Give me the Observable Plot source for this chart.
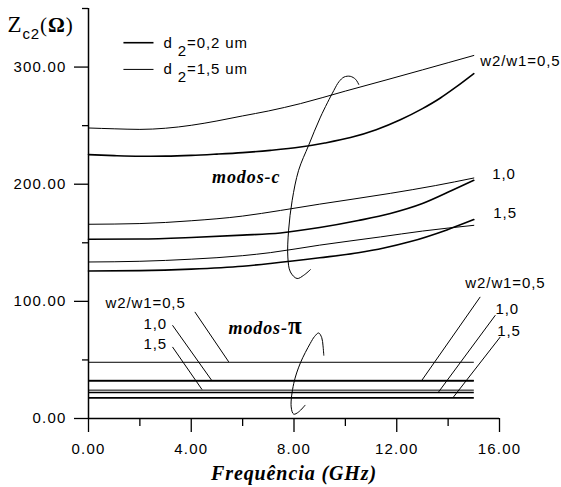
<!DOCTYPE html>
<html><head><meta charset="utf-8">
<script src="https://cdn.jsdelivr.net/npm/d3@7"></script>
<script src="https://cdn.jsdelivr.net/npm/@observablehq/plot@0.6"></script>
<style>
html,body{margin:0;padding:0;background:#fff;}
svg text{letter-spacing:0.9px;}
g[aria-label="y-axis tick label"] text, g[aria-label="x-axis tick label"] text{letter-spacing:1.2px;}
g[aria-label="modos"] text{letter-spacing:3.4px;}
g[aria-label="xlabel"] text{letter-spacing:2.2px;}
g[aria-label="ylabel"] text{letter-spacing:0px;}
</style></head><body><div id="chart"></div>
<script>
// ---- axis ticks ----
const xTicks = [0, 4, 8, 12, 16];
const xMinorTicks = [2, 6, 10, 14];
const yTicks = [0, 100, 200, 300];
const yMinorTicks = [50, 150, 250, 350];

// ---- texts ----
const xLabel = "Frequência (GHz)";
const yLabel = "Zc2(Ω)";
const legendLabels = ["d2=0,2 um", "d2=1,5 um"];
const legendD = ["0,2", "1,5"];
const legendZ = [320.8, 298.0];

// ---- modos-c : [frequency GHz, Zc2 ohm] ----
const cW05D02 = [[0,225.3],[1,224.4],[2,223.9],[3,224],[4,224.6],[5,225.7],[6,227],[7.08,228.9],[8.25,231.7],[9.2,235.2],[10.2,239.8],[11.2,246.5],[12.14,255],[13,264.5],[13.7,273.6],[14.3,282.8],[15,294.4]];
const cW05D15 = [[0,248.0],[1,247.3],[2,246.8],[3,247.8],[4,250.3],[5,254],[6,258.3],[7,262.5],[8.25,268.8],[10,279.5],[11.62,289.2],[13,297.6],[15,309.9]];
const cW10D02 = [[0,153],[2,153.2],[4,154.5],[6,156.5],[7.47,158.4],[9,163],[10.5,169],[11.75,175],[13,183.5],[14.16,194.8],[15,203.3]];
const cW10D15 = [[0,165.8],[2,166.4],[4,168.8],[6,172.8],[7.47,177.6],[9,183],[11.75,192.2],[13.5,198.8],[15,205.3]];
const cW15D02 = [[0,125.9],[2,126.2],[4,127.5],[6,130],[7.08,132.3],[9,137.2],[10.5,141.5],[11.5,145.5],[12.5,150.8],[13.95,161],[15,169.8]];
const cW15D15 = [[0,133.6],[2,134.2],[4,136],[6,139],[7.08,141.6],[9,148],[11.36,155],[13,160],[15,164.9]];

// ---- modos-pi : constant Zc2 per w2/w1 ----
const piWidths = ["0,5", "1,0", "1,5"];
const piZD02 = [32.1, 22.2, 17.6];
const piZD15 = [48.0, 32.6, 24.2];
const piFreqRange = [0, 15];

// ---- curve labels ----
const cLabelText = ["w2/w1=0,5", "1,0", "1,5"];
const cLabelF = [15.25, 15.72, 15.76];
const cLabelZ = [304.9, 208.4, 175.6];

const piLeftText = ["w2/w1=0,5", "1,0", "1,5"];
const piLeftF = [0.66, 2.14, 2.14];
const piLeftZ = [98.8, 80.5, 63.8];
const piRightText = ["w2/w1=0,5", "1,0", "1,5"];
const piRightF = [14.67, 15.84, 15.91];
const piRightZ = [115.4, 93.3, 74.5];

// leader lines [f1, z1, f2, z2]
const piLeftLeaders = [[4.14,91.0,5.46,48.3],[3.27,79.6,4.81,32.1],[3.27,61.1,4.42,24.7]];
const piRightLeaders = [[15.25,103.8,12.98,32.7],[15.84,88.2,13.63,22.7],[16.03,69.6,14.21,18.4]];

// group annotations
const modeLabels = ["modos-c", "modos-π"];
const modeLabelF = [4.81, 5.45];
const modeLabelZ = [206.2, 77];
const cLoop = [[10.52,285.2],[10.4,289.5],[10.19,292.1],[9.95,291.5],[9.75,287.5],[9.55,280],[9.03,257.3],[8.57,233.2],[8.18,211.9],[7.93,186.3],[7.79,160.8],[7.76,137.9],[7.86,125.1],[8.12,119.5],[8.38,122.3],[8.64,127.1]];
const piLoop = [[9.16,54],[9.13,62],[9.08,69],[8.96,73],[8.8,70],[8.63,64],[8.25,47.5],[7.99,29.9],[7.89,9.9],[7.99,3.7],[8.18,5.6],[8.43,11.3]];

// legend line span
const legendLineF = [1.36, 2.53];
const legendTextF = 2.92;

// ---- build tables ----
const rowsOf = (pts, w, d) => pts.map(([f, z]) => ({f, z, w, d}));
const cRows = [
  ...rowsOf(cW05D02, "0,5", "0,2"), ...rowsOf(cW05D15, "0,5", "1,5"),
  ...rowsOf(cW10D02, "1,0", "0,2"), ...rowsOf(cW10D15, "1,0", "1,5"),
  ...rowsOf(cW15D02, "1,5", "0,2"), ...rowsOf(cW15D15, "1,5", "1,5")
];
const piRows = [
  ...piWidths.map((w, i) => ({w, d: "0,2", z: piZD02[i], f0: piFreqRange[0], f1: piFreqRange[1]})),
  ...piWidths.map((w, i) => ({w, d: "1,5", z: piZD15[i], f0: piFreqRange[0], f1: piFreqRange[1]}))
];
const labelRows = (t, f, z) => t.map((s, i) => ({t: s, f: f[i], z: z[i]}));
const leaderRows = [...piLeftLeaders, ...piRightLeaders].map(([f1, z1, f2, z2]) => ({f1, z1, f2, z2}));
const legendRows = legendLabels.map((t, i) => ({t, d: legendD[i], z: legendZ[i], f1: legendLineF[0], f2: legendLineF[1], ft: legendTextF}));
const modeRows = labelRows(modeLabels, modeLabelF, modeLabelZ);

const SERIF = "Liberation Serif, Times New Roman, serif";
const SANS = "Liberation Sans, Arial, sans-serif";
const W_THICK = 1.6, W_THIN = 1;
const sw = d => d.d === "0,2" ? W_THICK : W_THIN;

const plot = Plot.plot({
  width: 561, height: 487,
  marginLeft: 88, marginRight: 62, marginTop: 8, marginBottom: 69,
  x: {domain: [0, 16], label: null},
  y: {domain: [0, 350], label: null},
  style: {background: "#fff", color: "#000", fontSize: "15px", fontFamily: SANS},
  marks: [
    Plot.axisY({ticks: yTicks, tickSize: 14, tickPadding: 8, tickFormat: d3.format(".2f"), fontSize: 15, strokeWidth: 1.3, label: null}),
    Plot.axisY({ticks: yMinorTicks, tickSize: 6, tickFormat: () => "", strokeWidth: 1.3, label: null}),
    Plot.axisX({ticks: xTicks, tickSize: 14, tickPadding: 11, tickFormat: d3.format(".2f"), fontSize: 15, strokeWidth: 1.3, label: null}),
    Plot.axisX({ticks: xMinorTicks, tickSize: 8, tickFormat: () => "", strokeWidth: 1.3, label: null}),
    Plot.ruleX([0], {strokeWidth: 1.5}),
    Plot.ruleY([0], {strokeWidth: 1.5}),
    // modos-c curves
    Plot.line(cRows, {x: "f", y: "z", z: r => r.w + r.d, curve: "monotone-x", stroke: "#000", strokeWidth: sw}),
    // modos-pi lines
    Plot.link(piRows, {x1: "f0", x2: "f1", y1: "z", y2: "z", stroke: "#000", strokeWidth: sw}),
    // leaders
    Plot.link(leaderRows, {x1: "f1", y1: "z1", x2: "f2", y2: "z2", stroke: "#000", strokeWidth: 1}),
    // loops
    Plot.line(cLoop, {x: d => d[0], y: d => d[1], curve: "catmull-rom", stroke: "#000", strokeWidth: 1}),
    Plot.line(piLoop, {x: d => d[0], y: d => d[1], curve: "catmull-rom", stroke: "#000", strokeWidth: 1}),
    // labels
    Plot.text(labelRows(cLabelText, cLabelF, cLabelZ), {x: "f", y: "z", text: "t", textAnchor: "start", fontSize: 15}),
    Plot.text(labelRows(piLeftText, piLeftF, piLeftZ), {x: "f", y: "z", text: "t", textAnchor: "start", fontSize: 15}),
    Plot.text(labelRows(piRightText, piRightF, piRightZ), {x: "f", y: "z", text: "t", textAnchor: "start", fontSize: 15}),
    Plot.text(modeRows, {x: "f", y: "z", text: "t", textAnchor: "start", fontSize: 18, fontFamily: SERIF, fontWeight: "bold", fontStyle: "italic", ariaLabel: "modos"}),
    // legend
    Plot.link(legendRows, {x1: "f1", x2: "f2", y1: "z", y2: "z", stroke: "#000", strokeWidth: sw}),
    Plot.text(legendRows, {x: "ft", y: "z", text: "t", textAnchor: "start", fontSize: 15}),
    // axis titles
    Plot.text([xLabel], {frameAnchor: "bottom", dy: 55, lineAnchor: "middle", fontSize: 20, fontFamily: SERIF, fontWeight: "bold", fontStyle: "italic", ariaLabel: "xlabel"}),
    Plot.text([yLabel], {frameAnchor: "top-left", dx: -81, dy: 17, textAnchor: "start", lineAnchor: "middle", fontSize: 20, fontFamily: SERIF, ariaLabel: "ylabel"})
  ]
});

// rich text (subscripts, mixed fonts)
const rich = {
  "Zc2(Ω)": [{t: "Z", font: SERIF, size: 23}, {t: "c2", font: SANS, size: 15, dy: 7}, {t: "(", font: SERIF, size: 21, dy: -7}, {t: "Ω", font: SERIF, size: 21, weight: "bold"}, {t: ")", font: SERIF, size: 21}],
  "d2=0,2 um": [{t: "d "}, {t: "2", dy: 8}, {t: "=0,2 um", dy: -8}],
  "d2=1,5 um": [{t: "d "}, {t: "2", dy: 8}, {t: "=1,5 um", dy: -8}],
  "modos-π": [{t: "modos-"}, {t: "π", size: 25, style: "normal", font: SERIF}]
};
plot.querySelectorAll("text").forEach(el => {
  const segs = rich[el.textContent];
  if (!segs) return;
  el.textContent = "";
  for (const s of segs) {
    const ts = document.createElementNS("http://www.w3.org/2000/svg", "tspan");
    ts.textContent = s.t;
    if (s.font) ts.setAttribute("font-family", s.font);
    if (s.size) ts.setAttribute("font-size", s.size);
    if (s.weight) ts.setAttribute("font-weight", s.weight);
    if (s.style) ts.setAttribute("font-style", s.style);
    if (s.dy) ts.setAttribute("dy", s.dy);
    el.appendChild(ts);
  }
});
document.getElementById("chart").appendChild(plot);
</script></body></html>
